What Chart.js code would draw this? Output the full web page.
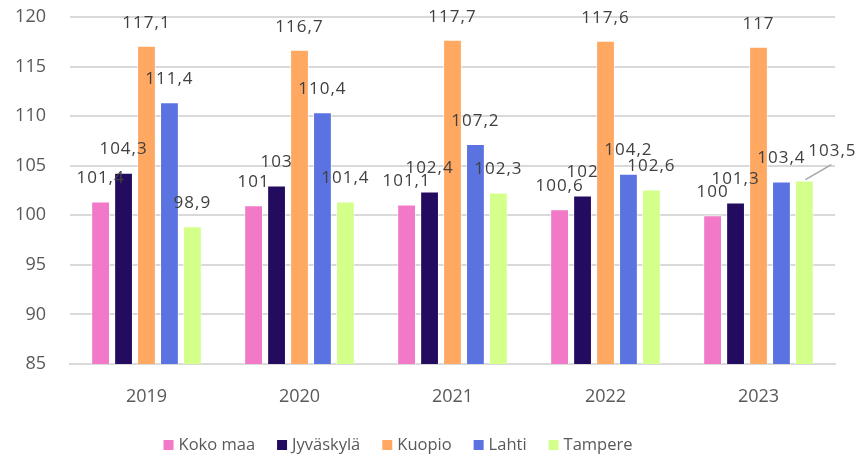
<!DOCTYPE html>
<html>
<head>
<meta charset="utf-8">
<script src="https://cdn.jsdelivr.net/npm/chart.js@4"></script>
<style>
html,body{margin:0;padding:0;background:#fff;}
#wrap{width:858px;height:456px;position:relative;}
</style>
</head>
<body>
<div id="wrap"><canvas id="c" width="858" height="456"></canvas></div>
<script>
const categories = ['2019', '2020', '2021', '2022', '2023'];
const seriesNames = ['Koko maa', 'Jyväskylä', 'Kuopio', 'Lahti', 'Tampere'];
const kokoMaa   = [101.4, 101.0, 101.1, 100.6, 100.0];
const jyvaskyla = [104.3, 103.0, 102.4, 102.0, 101.3];
const kuopio    = [117.1, 116.7, 117.7, 117.6, 117.0];
const lahti     = [111.4, 110.4, 107.2, 104.2, 103.4];
const tampere   = [98.9, 101.4, 102.3, 102.6, 103.5];
const yTickValues = [85, 90, 95, 100, 105, 110, 115, 120];

const seriesValues = [kokoMaa, jyvaskyla, kuopio, lahti, tampere];
const colors = ['#F179C7', '#230C5F', '#FFA862', '#5B73E0', '#D4FF8A'];

const fmt = v => String(v).replace('.', ',');

const labelPlugin = {
  id: 'barLabels',
  afterDatasetsDraw(chart) {
    const ctx = chart.ctx;
    ctx.save();
    ctx.font = '17px "Open Sans"';
    ctx.letterSpacing = '1px';
    ctx.fillStyle = '#404040';
    ctx.textAlign = 'center';
    ctx.textBaseline = 'middle';
    chart.data.datasets.forEach((ds, di) => {
      const meta = chart.getDatasetMeta(di);
      meta.data.forEach((bar, i) => {
        const txt = fmt(ds.data[i]);
        if (di === 4 && i === 4) {
          ctx.strokeStyle = '#a6a6a6';
          ctx.lineWidth = 1.5;
          ctx.beginPath();
          ctx.moveTo(bar.x + 27, bar.y - 16);
          ctx.lineTo(bar.x + 1, bar.y - 1);
          ctx.stroke();
          ctx.fillText(txt, bar.x + 28, bar.y - 29);
        } else {
          ctx.fillText(txt, bar.x, bar.y - 23);
        }
      });
    });
    ctx.restore();
  }
};

const legendPlugin = {
  id: 'customLegend',
  afterDraw(chart) {
    const ctx = chart.ctx;
    ctx.save();
    ctx.font = '16.5px "Open Sans"';
    ctx.textBaseline = 'middle';
    ctx.textAlign = 'left';
    const box = 10, gapText = 5, gapItem = 22, cy = 445;
    const items = chart.data.datasets.map(ds => ({ text: ds.label, color: ds.backgroundColor, w: ctx.measureText(ds.label).width }));
    const total = items.reduce((a, it) => a + box + gapText + it.w, 0) + gapItem * (items.length - 1);
    let x = 398 - total / 2;
    items.forEach(it => {
      ctx.fillStyle = it.color;
      ctx.fillRect(x, cy - box / 2, box, box);
      ctx.fillStyle = '#595959';
      ctx.fillText(it.text, x + box + gapText, cy);
      x += box + gapText + it.w + gapItem;
    });
    ctx.restore();
  }
};

new Chart(document.getElementById('c'), {
  type: 'bar',
  data: {
    labels: categories,
    datasets: seriesNames.map((n, k) => ({
      label: n,
      data: seriesValues[k],
      backgroundColor: colors[k],
      borderColor: 'rgba(255,255,255,0.6)',
      borderWidth: 1,
      categoryPercentage: 0.75,
      barPercentage: 0.82
    }))
  },
  options: {
    responsive: false,
    animation: false,
    devicePixelRatio: 1,
    layout: { padding: { left: 0, right: 23, top: 17, bottom: 41 } },
    plugins: {
      tooltip: { enabled: false },
      legend: { display: false }
    },
    scales: {
      x: {
        afterFit: s => { s.height = 51; },
        grid: { display: false },
        border: { display: true, color: '#d9d9d9', width: 2 },
        ticks: { color: '#595959', padding: 14, font: { family: '"Open Sans"', size: 18 } }
      },
      y: {
        min: 85, max: 120,
        afterBuildTicks: s => { s.ticks = yTickValues.map(v => ({ value: v })); },
        afterFit: s => { s.width = 70; s.paddingTop = 0; s.paddingBottom = 0; },
        grid: { color: '#d9d9d9', lineWidth: 2, drawTicks: false },
        border: { display: false },
        ticks: { color: '#595959', padding: 24, font: { family: '"Open Sans"', size: 18 } }
      }
    }
  },
  plugins: [labelPlugin, legendPlugin]
});
</script>
</body>
</html>
